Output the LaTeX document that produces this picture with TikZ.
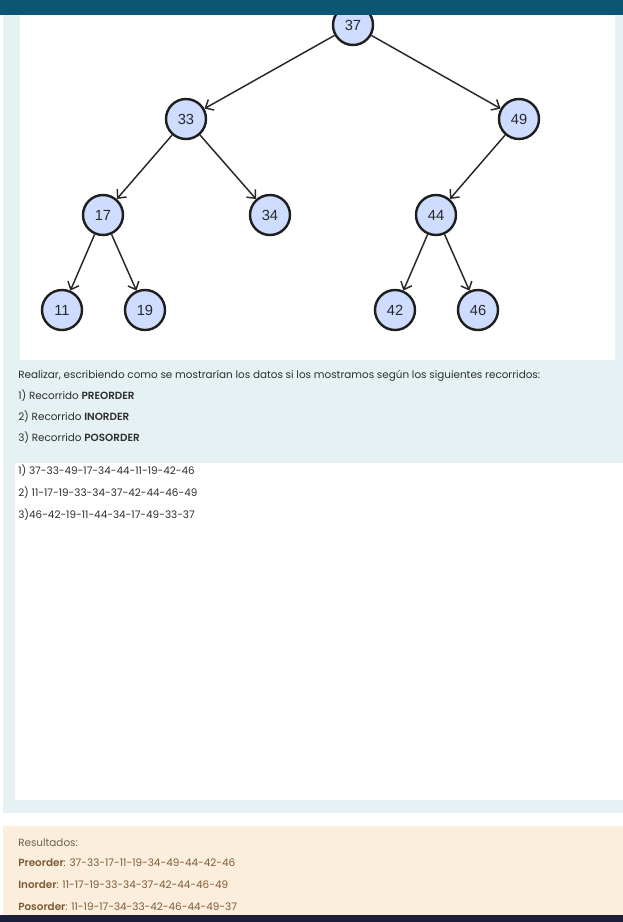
\documentclass[tikz,border=0pt]{standalone}
\usepackage{fontspec}
\setmainfont{Poppins}[BoldFont={Poppins SemiBold}]
\newfontfamily\numfont{Liberation Sans}
\usetikzlibrary{arrows.meta}

\definecolor{barblue}{RGB}{11,86,115}
\definecolor{pagebg}{RGB}{230,241,244}
\definecolor{creambg}{RGB}{252,238,221}
\definecolor{navybar}{RGB}{28,30,56}
\definecolor{nodefill}{RGB}{206,220,255}
\definecolor{txtgray}{RGB}{45,45,45}
\definecolor{resbrown}{RGB}{125,90,52}

\tikzset{
  treenode/.style={circle,draw={rgb,255:red,30;green,30;blue,30},line width=1.8pt,fill=nodefill,
    minimum size=30pt,inner sep=0pt,font=\numfont\fontsize{11}{13}\selectfont,text={rgb,255:red,40;green,40;blue,40}},
  treeedge/.style={draw={rgb,255:red,40;green,40;blue,40},line width=1.1pt,-{Straight Barb[length=5pt,width=9pt,line width=1.1pt]}},
  bodytext/.style={anchor=base west,inner sep=0pt,font=\fontsize{7.8}{9}\selectfont,text=txtgray},
  restext/.style={anchor=base west,inner sep=0pt,font=\fontsize{7.8}{9}\selectfont,text=resbrown}
}

\begin{document}
\begin{tikzpicture}[x=0.75pt,y=0.75pt,yscale=-1,xscale=1]
\useasboundingbox (0,0) rectangle (623,922);

%Shape: Rectangle (page background)
\fill [pagebg] (3,15) rectangle (623,813);
%Shape: Rectangle (picture panel)
\fill [white] (20,15) rectangle (615,360);
%Shape: Rectangle (answer box)
\fill [white] (15,463) rectangle (623,800);
%Shape: Rectangle (results box)
\fill [creambg] (3,826) rectangle (623,915);

%Tree nodes
\node [treenode] (n37) at (353,25) {37};
\node [treenode] (n33) at (186,119) {33};
\node [treenode] (n49) at (519,119) {49};
\node [treenode] (n17) at (103,215) {17};
\node [treenode] (n34) at (270,215) {34};
\node [treenode] (n44) at (436,215) {44};
\node [treenode] (n11) at (62,310) {11};
\node [treenode] (n19) at (145,310) {19};
\node [treenode] (n42) at (395,310) {42};
\node [treenode] (n46) at (478,310) {46};

%Straight Lines
\draw [treeedge] (n37) -- (n33);
\draw [treeedge] (n37) -- (n49);
\draw [treeedge] (n33) -- (n17);
\draw [treeedge] (n33) -- (n34);
\draw [treeedge] (n49) -- (n44);
\draw [treeedge] (n17) -- (n11);
\draw [treeedge] (n17) -- (n19);
\draw [treeedge] (n44) -- (n42);
\draw [treeedge] (n44) -- (n46);

%Shape: Rectangle (top bar)
\fill [barblue] (0,0) rectangle (623,15);
%Shape: Rectangle (bottom bar)
\fill [navybar] (0,915) rectangle (623,922);

%Question text
\node [bodytext] (q0) at (18,378) {Realizar, escribiendo como se mostrarían los datos si los mostramos según los siguientes recorridos:};
\node [bodytext] (q1) at (18,399) {1) Recorrido \textbf{PREORDER}};
\node [bodytext] (q2) at (18,420) {2) Recorrido \textbf{INORDER}};
\node [bodytext] (q3) at (18,441) {3) Recorrido \textbf{POSORDER}};

%Answer text
\node [bodytext] (a1) at (18,474) {1) 37-33-49-17-34-44-11-19-42-46};
\node [bodytext] (a2) at (18,496) {2) 11-17-19-33-34-37-42-44-46-49};
\node [bodytext] (a3) at (18,518) {3)46-42-19-11-44-34-17-49-33-37};

%Results text
\node [restext,text={rgb,255:red,110;green,95;blue,80}] (r0) at (18,846) {Resultados:};
\node [restext] (r1) at (18,866) {\textbf{Preorder}: 37-33-17-11-19-34-49-44-42-46};
\node [restext] (r2) at (18,888) {\textbf{Inorder}: 11-17-19-33-34-37-42-44-46-49};
\node [restext] (r3) at (18,910) {\textbf{Posorder}: 11-19-17-34-33-42-46-44-49-37};

\end{tikzpicture}
\end{document}
